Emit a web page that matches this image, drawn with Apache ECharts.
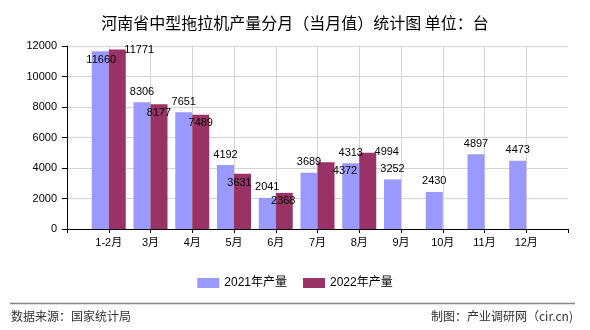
<!DOCTYPE html>
<html><head><meta charset="utf-8">
<script src="https://cdn.jsdelivr.net/npm/echarts@6/dist/echarts.min.js"></script>
<style>html,body{margin:0;padding:0;background:#fff}#c{width:590px;height:330px}</style>
</head><body><div id="c"></div>
<script>
const months = ['1-2月','3月','4月','5月','6月','7月','8月','9月','10月','11月','12月'];
const v2021 = [11660, 8306, 7651, 4192, 2041, 3689, 4313, 3252, 2430, 4897, 4473];
const v2022 = [11771, 8177, 7489, 3631, 2368, 4372, 4994, null, null, null, null];
const yTicks = [0, 2000, 4000, 6000, 8000, 10000, 12000];
const seriesNames = ['2021年产量', '2022年产量'];

// label placement tweaks (style, not data)
const off2021 = [[1,19],[0,0],[0,0],[0,0],[0,0],[0,0],[0,0],[0,0],[0,0],[0,0],[0,0]];
const off2022 = [[22,11],[0,19],[0,19],[-3,20],[-1,19],[19,19],[19,10],[0,0],[0,0],[0,0],[0,0]];

const FONT = "'Liberation Sans','Noto Sans CJK SC',sans-serif";
const cats = [''].concat(months, ['']);
function mk(vals, offs) {
  const d = [{value: '-'}];
  vals.forEach((v, i) => {
    if (v == null) d.push({value: '-'});
    else d.push({value: v, label: {offset: offs[i]}});
  });
  d.push({value: '-'});
  return d;
}
const chart = echarts.init(document.getElementById('c'), null, {renderer: 'canvas'});
chart.setOption({
  animation: false,
  backgroundColor: '#fff',
  title: {
    text: '河南省中型拖拉机产量分月（当月值）统计图 单位：台',
    left: 'center', top: 10,
    textStyle: {fontFamily: "'Noto Sans CJK SC',sans-serif", fontSize: 16, fontWeight: 'normal', color: '#000'}
  },
  legend: {
    data: seriesNames, left: 'center', top: 272,
    itemWidth: 22, itemHeight: 10, itemGap: 16,
    icon: 'rect',
    textStyle: {fontFamily: FONT, fontSize: 12, color: '#000', padding: [0,0,0,0]}
  },
  grid: {left: 67, right: 22, top: 46, bottom: 101, containLabel: false},
  xAxis: {
    type: 'category', data: cats, boundaryGap: false,
    axisLine: {lineStyle: {color: '#000', width: 1}},
    axisTick: {show: true, length: 4, lineStyle: {color: '#000'}, interval: 0},
    axisLabel: {interval: 0, fontFamily: FONT, fontSize: 11, color: '#000', margin: 8},
    splitLine: {show: true, interval: (i) => i < cats.length - 1, lineStyle: {color: '#d4d4d4'}}
  },
  yAxis: {
    type: 'value', min: yTicks[0], max: yTicks[yTicks.length-1], interval: 2000,
    axisLine: {show: true, lineStyle: {color: '#000'}},
    axisTick: {show: true, length: 5, lineStyle: {color: '#000'}},
    axisLabel: {fontFamily: FONT, fontSize: 11, color: '#000', margin: 10, formatter: (v) => String(v)},
    splitLine: {show: true, lineStyle: {color: '#d4d4d4'}}
  },
  series: [
    {name: seriesNames[0], type: 'bar', barWidth: 17, barGap: '0%',
     itemStyle: {color: '#9999FF'},
     label: {show: true, position: 'top', distance: 5, fontFamily: FONT, fontSize: 11, color: '#000'},
     data: mk(v2021, off2021)},
    {name: seriesNames[1], type: 'bar', barWidth: 17, barGap: '0%',
     itemStyle: {color: '#993366'},
     label: {show: true, position: 'top', distance: 5, fontFamily: FONT, fontSize: 11, color: '#000'},
     data: mk(v2022, off2022)}
  ],
  graphic: [
    {type: 'line', shape: {x1: 10, y1: 303.5, x2: 575, y2: 303.5}, style: {stroke: '#888', lineWidth: 1.5}},
    {type: 'text', left: 11, top: 310, style: {text: '数据来源：国家统计局', font: "12px 'Noto Sans CJK SC',sans-serif", fill: '#333'}},
    {type: 'text', right: 17, top: 310, style: {text: '制图：产业调研网（cir.cn)', font: "12px 'Noto Sans CJK SC',sans-serif", fill: '#333'}}
  ]
});
</script></body></html>
